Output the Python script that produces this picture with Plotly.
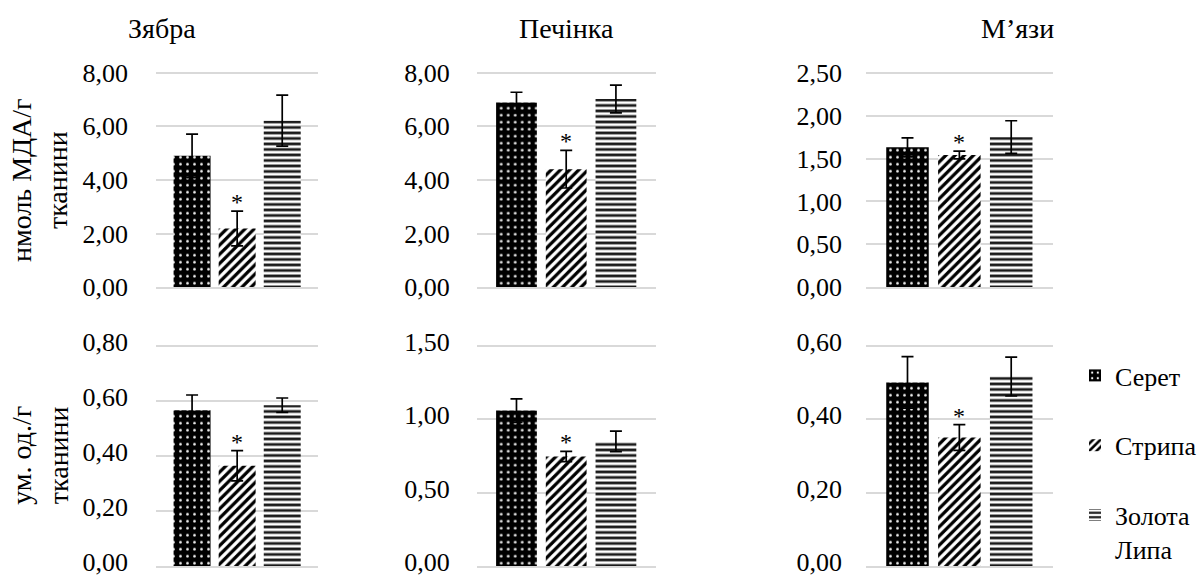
import plotly.graph_objects as go

# Sampling sites (series) and their legend labels
sites = ["Серет", "Стрипа", "Золота Липа"]
site_labels = ["Серет", "Стрипа", "Золота<br>Липа"]

# Panel titles (tissues) and y-axis titles
tissues = ["Зябра", "Печінка", "М’язи"]
y_titles = ["нмоль МДА/г<br>тканини", "ум. од./г<br>тканини"]

# Row 1: MDA content, nmol/g tissue (mean and error)
mda_gills = [4.90, 2.19, 6.21]
mda_gills_err = [0.81, 0.65, 0.95]
mda_liver = [6.89, 4.40, 7.02]
mda_liver_err = [0.38, 0.70, 0.52]
mda_muscle = [1.63, 1.54, 1.75]
mda_muscle_err = [0.11, 0.045, 0.19]

# Row 2: conventional units/g tissue (mean and error)
cu_gills = [0.566, 0.364, 0.584]
cu_gills_err = [0.055, 0.055, 0.026]
cu_liver = [1.058, 0.745, 0.849]
cu_liver_err = [0.08, 0.035, 0.07]
cu_muscle = [0.500, 0.350, 0.516]
cu_muscle_err = [0.07, 0.035, 0.053]

# Sites marked as significantly different (asterisk)
significant = [False, True, False]

# Axis ranges and tick steps per panel
y_max = [8, 8, 2.5, 0.8, 1.5, 0.6]
y_step = [2, 2, 0.5, 0.2, 0.5, 0.2]

panel_values = [mda_gills, mda_liver, mda_muscle, cu_gills, cu_liver, cu_muscle]
panel_errors = [mda_gills_err, mda_liver_err, mda_muscle_err,
                cu_gills_err, cu_liver_err, cu_muscle_err]

W, H = 1202, 579
FONT = "Liberation Serif, Times New Roman, serif"
GRID = "#d9d9d9"

# Grid boxes in pixels: columns (left, right) and rows (top gridline, zero gridline)
col_px = [(156, 318.3), (476.7, 655.7), (866, 1052.7)]
row_px = [(72.7, 287.2), (345.7, 566)]
label_gap = [27, 26, 23]
label_shift = [0, -4]
PAD = 3  # extra px above the top gridline so it is not clipped

patterns = [
    dict(shape=".", fillmode="replace", bgcolor="black", fgcolor="white",
         size=7, solidity=0.12),
    dict(shape="/", fillmode="replace", bgcolor="white", fgcolor="black",
         size=6.5, solidity=0.5),
    dict(shape="-", fillmode="replace", bgcolor="white", fgcolor="#1a1a1a",
         size=5.5, solidity=0.5),
]

fig = go.Figure()
annotations = []

for p in range(6):
    r, c = divmod(p, 3)
    ax = "" if p == 0 else str(p + 1)
    vals, errs = panel_values[p], panel_errors[p]
    for j, site in enumerate(sites):
        fig.add_trace(go.Bar(
            x=[site], y=[vals[j]], width=[0.82],
            name=site_labels[j], legendgroup=site, showlegend=(p == 0),
            marker=dict(color="black" if j == 0 else "white",
                        pattern=patterns[j], line=dict(width=0)),
            error_y=dict(type="data", array=[errs[j]], color="black",
                         thickness=1.7, width=6),
            xaxis="x" + ax, yaxis="y" + ax,
            hoverinfo="skip",
        ))
        if significant[j]:
            annotations.append(dict(
                x=site, y=vals[j] + errs[j], xref="x" + ax, yref="y" + ax,
                text="*", showarrow=False, yanchor="bottom", yshift=-6,
                font=dict(family=FONT, size=24, color="black"),
            ))

    x0, x1 = col_px[c]
    y0, y1 = row_px[r]
    pad_units = PAD * y_max[p] / (y1 - y0)
    fig.update_layout({
        # the category axis line doubles as the zero gridline
        "xaxis" + ax: dict(
            domain=[x0 / W, x1 / W], anchor="y" + ax, type="category",
            categoryorder="array", categoryarray=sites, range=[-0.8, 2.8],
            showticklabels=False, showgrid=False, zeroline=False,
            showline=True, linecolor=GRID, linewidth=1.6,
            fixedrange=True, automargin=False,
        ),
        "yaxis" + ax: dict(
            domain=[1 - y1 / H, 1 - (y0 - PAD) / H], anchor="x" + ax,
            range=[0, y_max[p] + pad_units],
            dtick=y_step[p], tick0=0,
            tickformat=".2f", showgrid=True, gridcolor=GRID,
            gridwidth=1.6, zeroline=False, showline=False, ticks="",
            ticklabelstandoff=label_gap[c], ticklabelshift=label_shift[r],
            automargin=False, ticklabeloverflow="allow",
            tickfont=dict(family=FONT, size=26, color="black"),
            fixedrange=True,
        ),
    })

# Tissue titles above the top row
title_x = [162, 566, 1017.5]
for k, t in enumerate(tissues):
    annotations.append(dict(
        x=title_x[k] / W, y=1 - 29 / H, xref="paper", yref="paper",
        text=t, showarrow=False, xanchor="center", yanchor="middle",
        font=dict(family=FONT, size=28, color="black"),
    ))

# Rotated y-axis titles for the left column
for r, t in enumerate(y_titles):
    yc = (row_px[r][0] + row_px[r][1]) / 2
    annotations.append(dict(
        x=40 / W, y=1 - yc / H, xref="paper", yref="paper",
        text=t, showarrow=False, textangle=-90,
        xanchor="center", yanchor="middle",
        font=dict(family=FONT, size=28, color="black"),
    ))

fig.update_layout(
    width=W, height=H,
    margin=dict(l=0, r=0, t=0, b=0, autoexpand=False),
    paper_bgcolor="white", plot_bgcolor="white",
    barmode="overlay", separators=", ",
    showlegend=True,
    legend=dict(
        x=1, y=1 - 352 / H, xanchor="right", yanchor="top",
        font=dict(family=FONT, size=26, color="black"),
        tracegroupgap=33, valign="top", itemwidth=30,
        bgcolor="rgba(0,0,0,0)",
    ),
    annotations=annotations,
)

fig.write_html("out.html")
